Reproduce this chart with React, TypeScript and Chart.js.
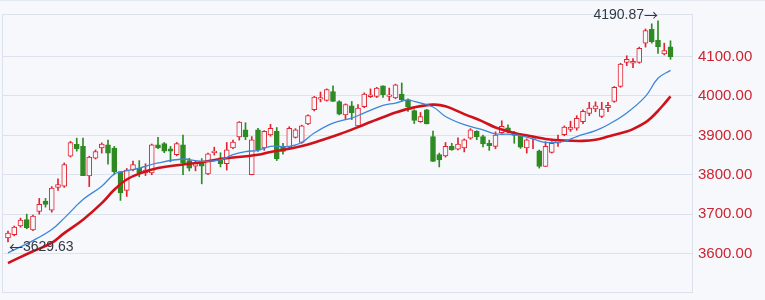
import { useEffect, useRef } from 'react';
import { Chart, registerables } from 'chart.js';

Chart.register(...registerables);

// ---- data ----
const opens = [
  3640, 3648, 3670, 3686, 3660, 3707, 3733, 3710, 3768, 3771,
  3847, 3877, 3872, 3797, 3842, 3868, 3876, 3868, 3808, 3760,
  3813, 3817, 3805, 3805, 3876, 3879, 3866, 3851, 3876, 3836,
  3822, 3834, 3802, 3856, 3843, 3828, 3868, 3896, 3914, 3800,
  3914, 3868, 3901, 3910, 3872, 3870, 3895, 3882, 3929, 3965,
  3992, 3989, 4011, 3986, 3952, 3975, 3924, 3973, 3998, 3999,
  4026, 3999, 3995, 4005, 3990, 3963, 3935, 3965, 3897, 3851,
  3848, 3872, 3865, 3868, 3893, 3910, 3897, 3880, 3872, 3907,
  3919, 3906, 3901, 3868, 3891, 3861, 3821, 3857, 3880, 3902,
  3915, 3918, 3935, 3956, 3967, 3948, 3970, 3986, 4024, 4085,
  4083, 4085, 4134, 4169, 4141, 4107, 4125,
];
const closes = [
  3652, 3667, 3685, 3665, 3695, 3725, 3725, 3766, 3775, 3826,
  3882, 3866, 3798, 3845, 3859, 3878, 3855, 3808, 3754, 3812,
  3826, 3804, 3812, 3876, 3868, 3860, 3860, 3879, 3831, 3817,
  3830, 3822, 3853, 3860, 3828, 3863, 3883, 3934, 3896, 3889,
  3863, 3910, 3918, 3840, 3859, 3918, 3914, 3924, 3950, 3997,
  3996, 4016, 3986, 3954, 3978, 3957, 3969, 4005, 4003, 4020,
  4003, 4003, 4028, 3990, 3972, 3938, 3948, 3929, 3834, 3838,
  3872, 3864, 3878, 3889, 3914, 3896, 3878, 3874, 3901, 3923,
  3910, 3900, 3870, 3889, 3893, 3821, 3872, 3880, 3889, 3921,
  3921, 3943, 3961, 3969, 3975, 3967, 3976, 4022, 4081, 4093,
  4088, 4121, 4166, 4138, 4125, 4115, 4100,
];
const highs = [
  3657, 3670, 3690, 3700, 3698, 3740, 3740, 3770, 3790, 3830,
  3885, 3893, 3893, 3847, 3863, 3881, 3888, 3872, 3808, 3816,
  3835, 3836, 3828, 3878, 3895, 3882, 3872, 3882, 3901, 3842,
  3835, 3841, 3855, 3870, 3856, 3882, 3888, 3935, 3932, 3897,
  3918, 3912, 3928, 3920, 3880, 3922, 3917, 3926, 3952, 3999,
  4010, 4018, 4026, 3988, 3980, 3986, 3978, 4008, 4018, 4022,
  4026, 4020, 4030, 4033, 3993, 3965, 3958, 3966, 3911, 3855,
  3882, 3880, 3894, 3891, 3917, 3912, 3901, 3888, 3909, 3937,
  3927, 3910, 3905, 3891, 3896, 3863, 3884, 3884, 3901, 3924,
  3936, 3950, 3965, 3984, 3985, 3984, 3984, 4024, 4083, 4102,
  4095, 4124, 4170, 4183, 4190.87, 4134, 4140,
];
const lows = [
  3629.63, 3645, 3667, 3663, 3658, 3700, 3718, 3705, 3760, 3768,
  3845, 3860, 3798, 3770, 3840, 3855, 3827, 3800, 3735, 3745,
  3810, 3795, 3798, 3800, 3866, 3856, 3833, 3848, 3800, 3810,
  3810, 3777, 3800, 3850, 3820, 3812, 3866, 3888, 3889, 3800,
  3859, 3862, 3898, 3836, 3852, 3868, 3893, 3880, 3927, 3962,
  3985, 3987, 3986, 3952, 3940, 3940, 3924, 3970, 3996, 3996,
  3996, 3988, 3993, 3988, 3961, 3930, 3933, 3929, 3834, 3820,
  3845, 3862, 3863, 3858, 3890, 3889, 3871, 3862, 3866, 3905,
  3906, 3880, 3867, 3855, 3866, 3817, 3821, 3855, 3872, 3899,
  3910, 3913, 3930, 3950, 3960, 3945, 3960, 3984, 4022, 4077,
  4072, 4083, 4124, 4134, 4108, 4104, 4093,
];

// fast moving average (thin blue line), read at candle positions
const maFastIdx = [0, 4, 7, 9, 12, 15, 17, 18, 21, 24, 28, 30, 31, 34, 36, 38, 40, 42, 45, 47, 49, 52, 55, 57, 60, 62, 64, 65, 68, 70, 73, 76, 78, 81, 84, 86, 89, 91, 94, 96, 99, 102, 104, 106];
const maFastVal = [3602, 3633, 3661, 3690, 3737, 3771, 3802, 3807, 3817, 3830, 3840, 3836, 3834, 3838, 3851, 3859, 3862, 3872, 3872, 3882, 3906, 3931, 3944, 3957, 3976, 3982, 3990, 3986, 3972, 3948, 3927, 3914, 3904, 3902, 3891, 3882, 3885, 3897, 3912, 3927, 3957, 3999, 4045, 4065];

// slow moving average (thick red line)
const maSlowIdx = [0, 4, 7, 9, 12, 15, 17, 19, 21, 24, 28, 31, 34, 40, 42, 45, 48, 50, 53, 56, 58, 60, 62, 65, 68, 70, 73, 76, 78, 81, 84, 86, 89, 92, 94, 96, 99, 100, 102, 103, 104, 105, 106];
const maSlowVal = [3576, 3606, 3627, 3652, 3686, 3728, 3762, 3788, 3803, 3817, 3826, 3832, 3840, 3851, 3858, 3866, 3877, 3887, 3903, 3921, 3934, 3946, 3958, 3971, 3978, 3974, 3954, 3935, 3920, 3906, 3897, 3891, 3887, 3886, 3889, 3897, 3910, 3916, 3933, 3946, 3962, 3980, 3999];

const yTicks = [3600, 3700, 3800, 3900, 4000, 4100];

// ---- styles ----
const BG = '#f6f8fc';
const GRID = '#dbe2ee';
const UP = '#e3232f';
const DOWN = '#2e8a22';
const MA_FAST = '#3d86d8';
const MA_SLOW = '#d0111b';
const AXIS_TEXT = '#cc2431';
const FONT = '"Liberation Sans", "DejaVu Sans", Arial, sans-serif';
const ARROW_FONT = '"Noto Sans CJK SC", "DejaVu Sans", sans-serif';

export default function App() {
  const ref = useRef<HTMLCanvasElement | null>(null);

  useEffect(() => {
    document.body.style.margin = '0';
    const canvas = ref.current;
    if (!canvas) return;

    const isUp = opens.map((o, i) => closes[i] >= o);
    const wickData = highs.map((h, i) => ({ x: i, y: [lows[i], h] }));
    const bodyData = opens.map((o, i) => ({ x: i, y: [Math.min(o, closes[i]), Math.max(o, closes[i])] }));

    let hiIdx = 0;
    let loIdx = 0;
    highs.forEach((v, i) => { if (v > highs[hiIdx]) hiIdx = i; });
    lows.forEach((v, i) => { if (v < lows[loIdx]) loIdx = i; });

    const decor = {
      id: 'decor',
      beforeDraw(chart: any) {
        const { ctx, width, height } = chart;
        ctx.save();
        ctx.fillStyle = BG;
        ctx.fillRect(0, 0, width, height);
        ctx.strokeStyle = '#e2e7f0';
        ctx.lineWidth = 1;
        ctx.beginPath();
        ctx.moveTo(0, 0.5);
        ctx.lineTo(width, 0.5);
        ctx.stroke();
        ctx.restore();
      },
      beforeDatasetsDraw(chart: any) {
        const { ctx, chartArea: a } = chart;
        ctx.save();
        ctx.strokeStyle = GRID;
        ctx.lineWidth = 1;
        ctx.strokeRect(Math.round(a.left) + 0.5, Math.round(a.top) + 0.5, Math.round(a.right - a.left) - 1, Math.round(a.bottom - a.top) - 1);
        ctx.restore();
      },
      afterDraw(chart: any) {
        const { ctx } = chart;
        const xs = chart.scales.x;
        const ys = chart.scales.y;
        ctx.save();
        ctx.fillStyle = '#333a44';
        ctx.textBaseline = 'middle';
        // highest point label
        const hx = xs.getPixelForValue(hiIdx);
        const hy = ys.getPixelForValue(highs[hiIdx]) - 6;
        ctx.font = `14px ${ARROW_FONT}`;
        const aw = ctx.measureText('→').width;
        ctx.textAlign = 'right';
        ctx.fillText('→', hx, hy);
        ctx.font = `14px ${FONT}`;
        ctx.fillText(highs[hiIdx].toFixed(2), hx - aw, hy);
        // lowest point label
        const lx = xs.getPixelForValue(loIdx) + 1;
        const ly = ys.getPixelForValue(lows[loIdx]) + 5;
        ctx.textAlign = 'left';
        ctx.font = `14px ${ARROW_FONT}`;
        const lw = ctx.measureText('←').width;
        ctx.fillText('←', lx, ly);
        ctx.font = `14px ${FONT}`;
        ctx.fillText(lows[loIdx].toFixed(2), lx + lw, ly);
        ctx.restore();
      },
    };

    const chart = new Chart(canvas, {
      type: 'bar',
      data: {
        datasets: [
          {
            type: 'line',
            label: 'MA fast',
            data: maFastIdx.map((x, i) => ({ x, y: maFastVal[i] })),
            borderColor: MA_FAST,
            borderWidth: 1.3,
            pointRadius: 0,
            tension: 0.4,
            order: 0,
          } as any,
          {
            type: 'line',
            label: 'MA slow',
            data: maSlowIdx.map((x, i) => ({ x, y: maSlowVal[i] })),
            borderColor: MA_SLOW,
            borderWidth: 2.6,
            pointRadius: 0,
            tension: 0.4,
            order: 1,
          } as any,
          {
            label: 'body',
            data: bodyData as any,
            backgroundColor: isUp.map((u) => (u ? BG : DOWN)),
            borderColor: isUp.map((u) => (u ? UP : DOWN)),
            borderWidth: 1,
            borderSkipped: false,
            barThickness: 5,
            minBarLength: 1,
            grouped: false,
            order: 2,
          } as any,
          {
            label: 'wick',
            data: wickData as any,
            backgroundColor: isUp.map((u) => (u ? UP : DOWN)),
            borderWidth: 0,
            barThickness: 1,
            grouped: false,
            order: 3,
          } as any,
        ],
      },
      options: {
        animation: false,
        responsive: false,
        devicePixelRatio: 1,
        layout: { padding: { left: 2, top: 14, right: 0, bottom: 7 } },
        plugins: { legend: { display: false }, tooltip: { enabled: false } },
        scales: {
          x: {
            type: 'linear',
            display: false,
            min: -0.96,
            max: 109.6,
            offset: false,
          },
          y: {
            position: 'right',
            min: 3500,
            max: 4208,
            afterBuildTicks: (s: any) => {
              s.ticks = yTicks.map((v) => ({ value: v }));
            },
            afterFit: (s: any) => {
              s.width = 72;
              s.paddingTop = 0;
              s.paddingBottom = 0;
            },
            grid: { color: GRID, drawTicks: false },
            border: { display: false },
            ticks: {
              color: AXIS_TEXT,
              padding: 5,
              font: { size: 15, family: FONT },
              callback: (v: any) => Number(v).toFixed(2),
            },
          },
        },
      } as any,
      plugins: [decor],
    });

    return () => chart.destroy();
  }, []);

  return <canvas ref={ref} width={765} height={300} style={{ display: 'block' }} />;
}
